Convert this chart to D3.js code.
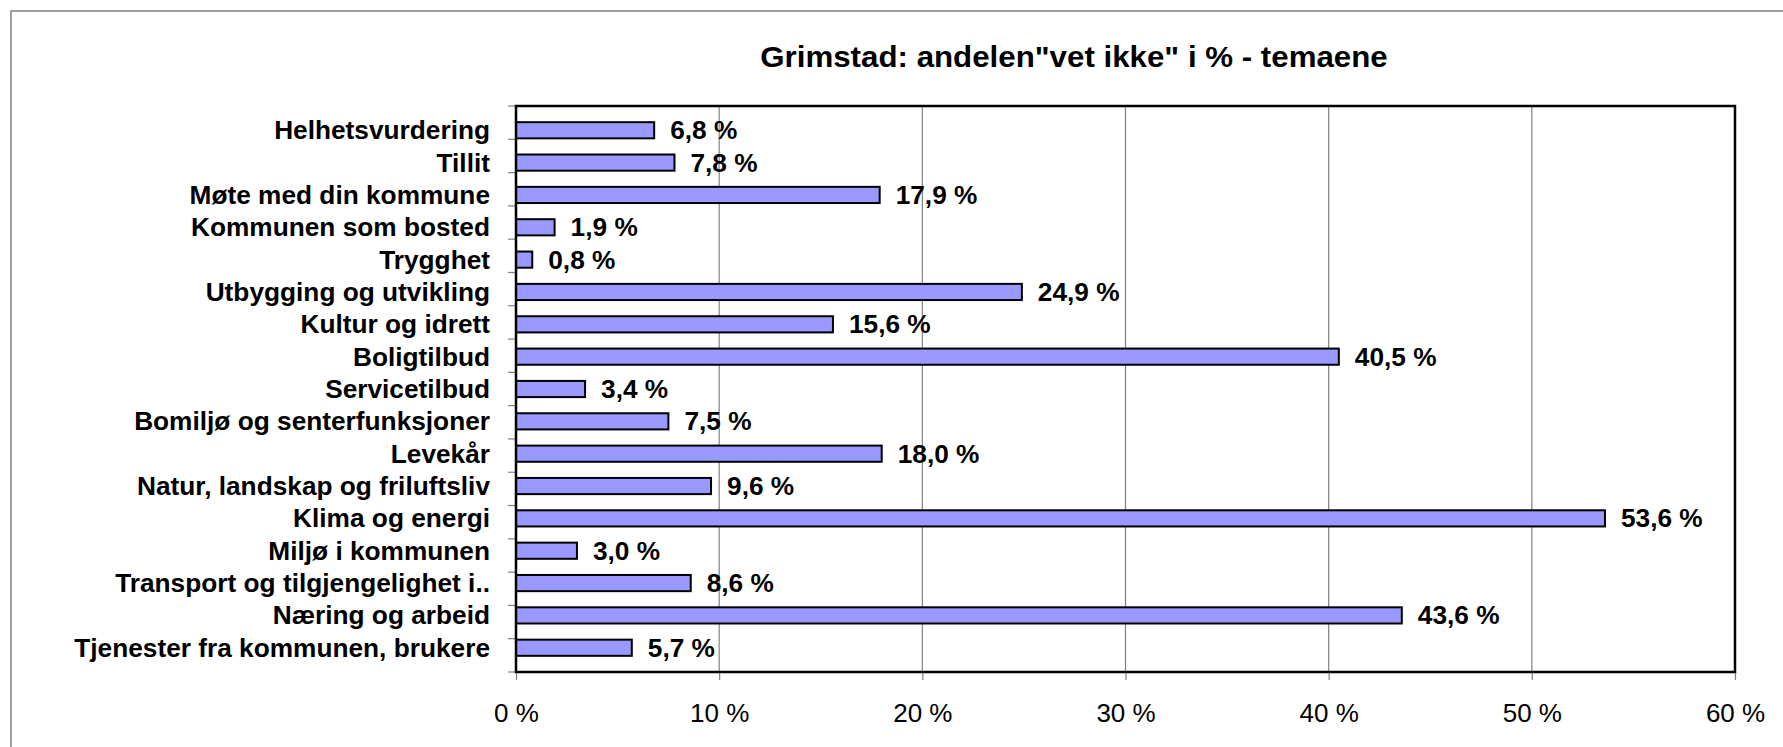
<!DOCTYPE html>
<html>
<head>
<meta charset="utf-8">
<script src="https://cdn.jsdelivr.net/npm/d3@7"></script>
<style>
  html, body { margin: 0; padding: 0; background: #fff; }
  svg { display: block; }
  text { font-family: "Liberation Sans", Arial, sans-serif; }
</style>
</head>
<body>
<svg id="chart" width="1783" height="747"></svg>
<script>
const title = 'Grimstad: andelen"vet ikke" i % - temaene';
const categories = [
  "Helhetsvurdering",
  "Tillit",
  "Møte med din kommune",
  "Kommunen som bosted",
  "Trygghet",
  "Utbygging og utvikling",
  "Kultur og idrett",
  "Boligtilbud",
  "Servicetilbud",
  "Bomiljø og senterfunksjoner",
  "Levekår",
  "Natur, landskap og friluftsliv",
  "Klima og energi",
  "Miljø i kommunen",
  "Transport og tilgjengelighet i..",
  "Næring og arbeid",
  "Tjenester fra kommunen, brukere"
];
const values = [6.8, 7.8, 17.9, 1.9, 0.8, 24.9, 15.6, 40.5, 3.4, 7.5, 18.0, 9.6, 53.6, 3.0, 8.6, 43.6, 5.7];
const xTicks = [0, 10, 20, 30, 40, 50, 60];
const xTickLabels = ["0 %", "10 %", "20 %", "30 %", "40 %", "50 %", "60 %"];

const W = 1783, H = 747;
const plot = { left: 516, right: 1735, top: 106, bottom: 672 };

const svg = d3.select("#chart");

function stretch(sel, k) {
  sel.each(function () {
    const l = this.getComputedTextLength();
    this.setAttribute("textLength", l * k);
    this.setAttribute("lengthAdjust", "spacingAndGlyphs");
  });
}

// outer frame (only left/top visible)
svg.append("rect")
  .attr("x", 11).attr("y", 11)
  .attr("width", W + 20).attr("height", H + 20)
  .attr("fill", "#fff").attr("stroke", "#808080").attr("stroke-width", 1.5);

const x = d3.scaleLinear().domain([0, 60]).range([plot.left, plot.right]);
const y = d3.scaleBand().domain(categories).range([plot.top, plot.bottom]).padding(0.5);

// gridlines
svg.append("g").selectAll("line")
  .data(xTicks.filter(t => t > 0 && t < 60))
  .join("line")
  .attr("x1", d => x(d)).attr("x2", d => x(d))
  .attr("y1", plot.top).attr("y2", plot.bottom)
  .attr("stroke", "#808080").attr("stroke-width", 1.2);

// x axis
const xAxis = d3.axisBottom(x).tickValues(xTicks)
  .tickFormat((d, i) => xTickLabels[i]).tickSize(8).tickPadding(0);
const gx = svg.append("g").attr("transform", `translate(0,${plot.bottom})`).call(xAxis);
gx.select(".domain").remove();
gx.selectAll(".tick line").attr("stroke", "#808080").attr("stroke-width", 1.2);
gx.selectAll(".tick text")
  .attr("y", 50).attr("dy", null)
  .attr("font-size", 26).attr("fill", "#000")
  .style("font-family", '"Liberation Sans", Arial, sans-serif');

// y axis ticks at band boundaries
const boundaries = d3.range(categories.length + 1).map(i => plot.top + i * (plot.bottom - plot.top) / categories.length);
svg.append("g").selectAll("line").data(boundaries).join("line")
  .attr("x1", plot.left - 8).attr("x2", plot.left)
  .attr("y1", d => d).attr("y2", d => d)
  .attr("stroke", "#808080").attr("stroke-width", 1.2);

// category labels via axis
const yAxis = d3.axisLeft(y).tickSize(0).tickPadding(26);
const gy = svg.append("g").attr("transform", `translate(${plot.left},0)`).call(yAxis);
gy.select(".domain").remove();
const ylabels = gy.selectAll(".tick text")
  .attr("font-size", 25).attr("font-weight", "bold").attr("fill", "#000")
  .attr("dy", "0.36em")
  .style("font-family", '"Liberation Sans", Arial, sans-serif');
stretch(ylabels, 1.05);

// bars
svg.append("g").selectAll("rect").data(values).join("rect")
  .attr("x", x(0))
  .attr("y", (d, i) => y(categories[i]))
  .attr("width", d => x(d) - x(0))
  .attr("height", y.bandwidth())
  .attr("fill", "#9999FF")
  .attr("stroke", "#000").attr("stroke-width", 2);

// value labels
const vl = svg.append("g").selectAll("text").data(values).join("text")
  .attr("x", d => x(d) + 16)
  .attr("y", (d, i) => y(categories[i]) + y.bandwidth() / 2)
  .attr("dy", "0.36em")
  .attr("font-size", 25).attr("font-weight", "bold").attr("fill", "#000")
  .text(d => d.toFixed(1).replace(".", ",") + " %");
stretch(vl, 1.05);

// plot area border
svg.append("rect")
  .attr("x", plot.left).attr("y", plot.top)
  .attr("width", plot.right - plot.left).attr("height", plot.bottom - plot.top)
  .attr("fill", "none").attr("stroke", "#000").attr("stroke-width", 2.5);

// title
const tt = svg.append("text")
  .attr("x", 1074).attr("y", 67)
  .attr("text-anchor", "middle")
  .attr("font-size", 29.5).attr("font-weight", "bold").attr("fill", "#000")
  .text(title);
stretch(tt, 1.06);
</script>
</body>
</html>
